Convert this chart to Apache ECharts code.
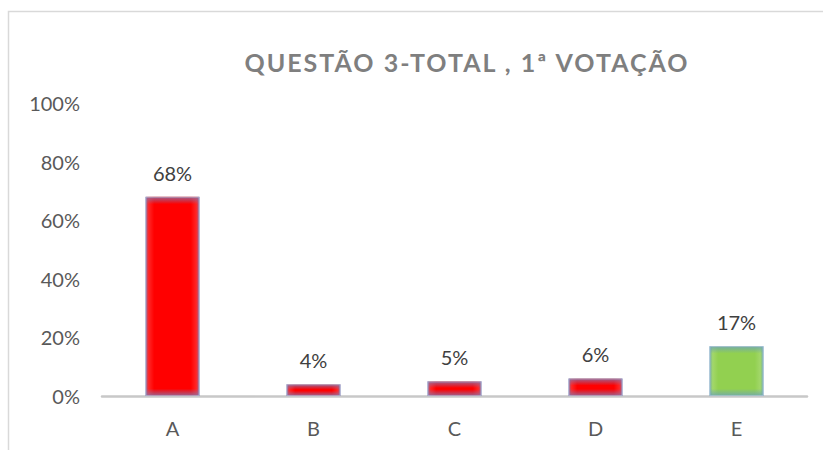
<!DOCTYPE html>
<html>
<head>
<meta charset="utf-8">
<script src="https://cdn.jsdelivr.net/npm/echarts@6/dist/echarts.min.js"></script>
<style>
  html, body { margin: 0; padding: 0; background: #fff; }
  #main { width: 823px; height: 450px; }
  /* title letter spacing (svg text) */
  #main svg text[fill="#7f7f7f"] { letter-spacing: 2px; }
</style>
</head>
<body>
<div id="main"></div>
<script>
const titleText = 'QUESTÃO 3-TOTAL , 1ª VOTAÇÃO'
const categories = ['A', 'B', 'C', 'D', 'E']
const shares = [0.68, 0.04, 0.05, 0.06, 0.17]
const yTicks = [0, 0.2, 0.4, 0.6, 0.8, 1]

// centre / edge colours of each bar
const fillColors = ['#ff0000', '#ff0000', '#ff0000', '#ff0000', '#92d050']
const edgeColors = ['#8f6fa2', '#8f6fa2', '#8f6fa2', '#8f6fa2', '#70a8b0']

const font = 'Lato'
const plotHeight = 293

const chart = echarts.init(document.getElementById('main'), null, { renderer: 'svg' })

const hexA = (hex, a) => {
  const n = parseInt(hex.slice(1), 16)
  return `rgba(${(n >> 16) & 255},${(n >> 8) & 255},${n & 255},${a})`
}

const mainData = shares.map((v, i) => ({
  value: v,
  itemStyle: {
    color: new echarts.graphic.LinearGradient(0, 0, 1, 0, [
      { offset: 0, color: edgeColors[i] },
      { offset: 0.06, color: hexA(fillColors[i], 0.85) },
      { offset: 0.16, color: fillColors[i] },
      { offset: 0.84, color: fillColors[i] },
      { offset: 0.94, color: hexA(fillColors[i], 0.85) },
      { offset: 1, color: edgeColors[i] },
    ]),
  },
}))

const overlayData = shares.map((v, i) => {
  const e = Math.min(0.45, 7 / (v * plotHeight))
  return {
    value: v,
    itemStyle: {
      color: new echarts.graphic.LinearGradient(0, 0, 0, 1, [
        { offset: 0, color: hexA(edgeColors[i], 0.85) },
        { offset: e, color: hexA(edgeColors[i], 0) },
        { offset: 1 - e, color: hexA(edgeColors[i], 0) },
        { offset: 1, color: hexA(edgeColors[i], 0.85) },
      ]),
    },
  }
})

const option = {
  animation: false,
  backgroundColor: '#fff',
  graphic: [
    {
      type: 'rect',
      shape: { x: 8.5, y: 11.5, width: 840, height: 460 },
      style: { fill: 'none', stroke: '#d9d9d9', lineWidth: 1.5 },
      silent: true,
    },
    {
      type: 'text',
      x: 467,
      y: 62,
      style: {
        text: titleText,
        fill: '#7f7f7f',
        font: `bold 25px ${font}`,
        textAlign: 'center',
        textVerticalAlign: 'middle',
      },
    },
  ],
  grid: {
    left: 102,
    right: 16,
    top: 103,
    bottom: 54,
  },
  xAxis: {
    type: 'category',
    data: categories,
    axisLine: { lineStyle: { color: '#c8c8c8', width: 2.5 } },
    axisTick: { show: false },
    axisLabel: {
      color: '#595959',
      fontFamily: font,
      fontSize: 20,
      margin: 22,
    },
  },
  yAxis: {
    type: 'value',
    min: yTicks[0],
    max: yTicks[yTicks.length - 1],
    interval: 0.2,
    axisLine: { show: false },
    axisTick: { show: false },
    splitLine: { show: false },
    axisLabel: {
      color: '#595959',
      fontFamily: font,
      fontSize: 20,
      margin: 22,
      formatter: (v) => Math.round(v * 100) + '%',
    },
  },
  series: [
    {
      name: 'total',
      type: 'bar',
      barWidth: 54,
      data: mainData,
      label: {
        show: true,
        position: 'top',
        distance: 14,
        color: '#404040',
        fontFamily: font,
        fontSize: 20,
        formatter: (p) => Math.round(p.value * 100) + '%',
      },
    },
    {
      name: 'edge',
      type: 'bar',
      barWidth: 54,
      barGap: '-100%',
      silent: true,
      data: overlayData,
      itemStyle: { borderColor: '#a9c0e0', borderWidth: 0.8 },
    },
  ],
}

chart.setOption(option)
</script>
</body>
</html>
